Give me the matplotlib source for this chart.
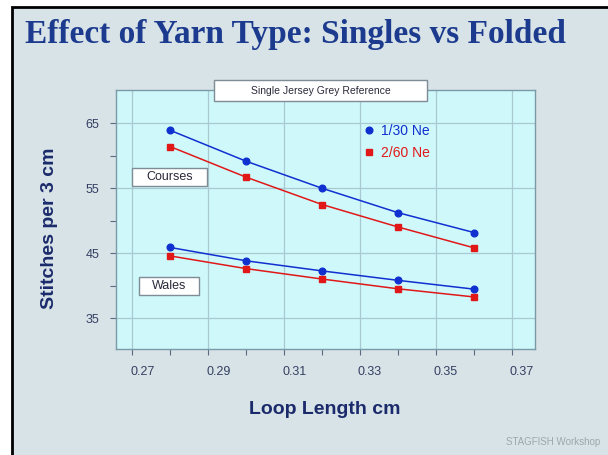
import matplotlib
matplotlib.use("Agg")
import matplotlib.pyplot as plt
import matplotlib.transforms as mtransforms
from matplotlib.patches import Rectangle
from matplotlib.lines import Line2D
from matplotlib.ticker import MultipleLocator, FixedLocator

# ---- data ----
loop_length = [0.28, 0.30, 0.32, 0.34, 0.36]
courses_1_30 = [63.9, 59.15, 55.0, 51.25, 48.2]
courses_2_60 = [61.4, 56.7, 52.5, 49.05, 45.85]
wales_1_30 = [45.9, 43.85, 42.3, 40.85, 39.5]
wales_2_60 = [44.6, 42.65, 41.05, 39.55, 38.3]
series_labels = ["1/30 Ne", "2/60 Ne"]
x_ticks = [0.27, 0.29, 0.31, 0.33, 0.35, 0.37]
x_tick_labels = ["0.27", "0.29", "0.31", "0.33", "0.35", "0.37"]
y_ticks = [35, 45, 55, 65]
y_tick_labels = ["35", "45", "55", "65"]
y_minor_ticks = [40, 50, 60]

BLUE = "#1030d0"
RED = "#e01818"
TEXT_NAVY = "#1b2a6b"
TICK_COL = "#353f62"

W, H = 608, 455
fig = plt.figure(figsize=(W / 100, H / 100), dpi=100, facecolor="white")

# page panel with black frame on left and top
fig.patches.append(Rectangle((12 / W, -0.05), 1.1, 1 - 7 / H + 0.05,
                             transform=fig.transFigure, facecolor="#d7e3e7",
                             edgecolor="black", linewidth=2, zorder=-10))

fig.text(25 / W, 1 - 43 / H, "Effect of Yarn Type: Singles vs Folded",
         family="Liberation Serif", weight="bold", fontsize=24,
         color="#1c3a8e", ha="left", va="baseline")

ax = fig.add_axes([116 / W, 1 - 349 / H, (535 - 116) / W, (349 - 90) / H])
ax.set_facecolor("#cff8fb")
for s in ax.spines.values():
    s.set_color("#7b9aa8")
    s.set_linewidth(1.0)

ax.set_xlim(0.2657, 0.3761)
ax.set_ylim(30.3, 70.1)

ax.plot(loop_length, courses_1_30, color=BLUE, lw=1.1, marker="o", ms=4.8, zorder=3)
ax.plot(loop_length, courses_2_60, color=RED, lw=1.1, marker="s", ms=4.8, zorder=3)
ax.plot(loop_length, wales_1_30, color=BLUE, lw=1.1, marker="o", ms=4.8, zorder=3)
ax.plot(loop_length, wales_2_60, color=RED, lw=1.1, marker="s", ms=4.8, zorder=3)

ax.xaxis.set_major_locator(FixedLocator(x_ticks))
ax.set_xticklabels(x_tick_labels, family="Liberation Sans")
ax.xaxis.set_minor_locator(MultipleLocator(0.01))
ax.yaxis.set_major_locator(FixedLocator(y_ticks))
ax.set_yticklabels(y_tick_labels, family="Liberation Sans")
ax.yaxis.set_minor_locator(FixedLocator(y_minor_ticks))
ax.grid(True, which="major", color="#a9c9d2", lw=0.9)
ax.set_axisbelow(True)
ax.tick_params(which="both", direction="out", length=4, color="#5a6a80", width=0.8)
ax.tick_params(axis="x", which="major", pad=8, labelsize=9, labelcolor=TICK_COL)
ax.tick_params(axis="y", which="major", pad=8, labelsize=9, labelcolor=TICK_COL)

# x tick labels appear shifted right in the reference
offset = mtransforms.ScaledTranslation(10 / 100, 0, fig.dpi_scale_trans)
for lab in ax.get_xticklabels():
    lab.set_transform(lab.get_transform() + offset)

ax.set_xlabel("Loop Length cm", fontsize=14, weight="bold", color=TEXT_NAVY,
              family="Liberation Sans")
ax.xaxis.set_label_coords((325 - 116) / 419, (349 - 410) / 259)
ax.xaxis.label.set_va("center")
ax.set_ylabel("Stitches per 3 cm", fontsize=14, weight="bold", color=TEXT_NAVY,
              family="Liberation Sans")
ax.yaxis.set_label_coords((50 - 116) / 419, (349 - 228) / 259)
ax.yaxis.label.set_va("center")

# boxed annotations (axes coords)
def boxed(x0, x1, y0, y1, text, size):
    ax.add_patch(Rectangle((x0, y0), x1 - x0, y1 - y0, transform=ax.transAxes,
                           facecolor="white", edgecolor="#7f8c95", lw=1.0,
                           zorder=5, clip_on=False))
    ax.text((x0 + x1) / 2, (y0 + y1) / 2, text, transform=ax.transAxes,
            ha="center", va="center", fontsize=size, color="#2a2a3a",
            family="Liberation Sans", zorder=6, clip_on=False)

def px_x(p):
    return (p - 116) / 419

def px_y(p):
    return (349 - p) / 259

boxed(px_x(214), px_x(427), px_y(101), px_y(80), "Single Jersey Grey Reference", 7.5)
boxed(px_x(132), px_x(207), px_y(186), px_y(168), "Courses", 9)
boxed(px_x(139), px_x(199), px_y(295), px_y(277), "Wales", 9)

handles = [Line2D([], [], color=BLUE, marker="o", ls="none", ms=4.8),
           Line2D([], [], color=RED, marker="s", ls="none", ms=4.8)]
leg = ax.legend(handles, series_labels, loc="upper left",
                bbox_to_anchor=(px_x(363), px_y(124)), frameon=False,
                handlelength=0.8, handletextpad=0.5,
                labelspacing=0.55, borderpad=0, borderaxespad=0,
                labelcolor=[BLUE, RED], prop={"family": "Liberation Sans", "size": 10})

fig.text(600 / W, 1 - 442 / H, "STAGFISH Workshop", fontsize=7, color="#9aa8ae",
         ha="right", va="center", family="Liberation Sans")

fig.savefig("out.png", dpi=100, facecolor=fig.get_facecolor())
